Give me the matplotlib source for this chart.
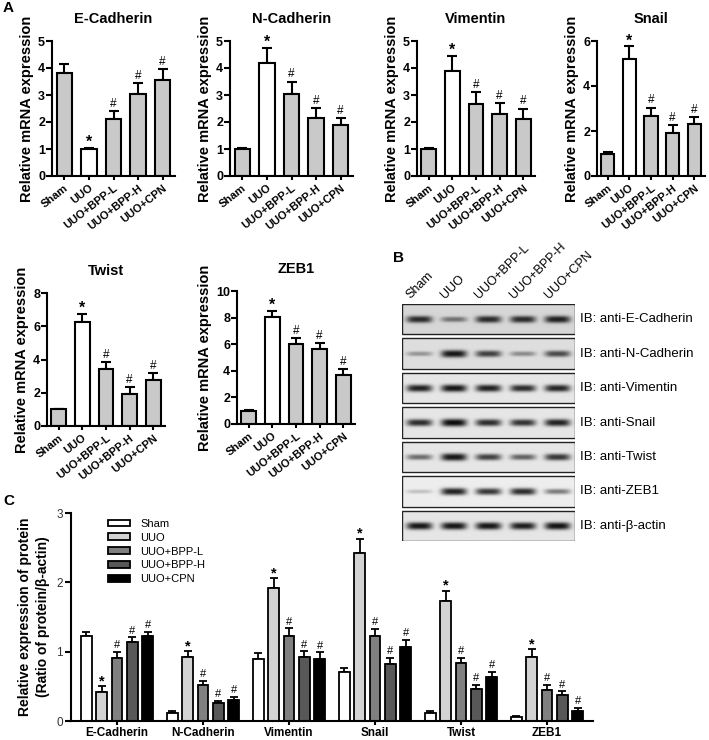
import numpy as np
import matplotlib
matplotlib.use("Agg")
import matplotlib.pyplot as plt
from matplotlib.patches import Rectangle, Patch

plt.rcParams['font.family'] = ['Liberation Sans', 'DejaVu Sans']

# ---------------- data ----------------
groups = ["Sham", "UUO", "UUO+BPP-L", "UUO+BPP-H", "UUO+CPN"]
sig_marks = ["", "*", "#", "#", "#"]

ecad_mrna = [3.80, 1.00, 2.10, 3.03, 3.57]
ecad_mrna_err = [0.33, 0.05, 0.30, 0.40, 0.38]
ncad_mrna = [1.00, 4.20, 3.05, 2.15, 1.88]
ncad_mrna_err = [0.05, 0.55, 0.45, 0.37, 0.28]
vim_mrna = [1.00, 3.88, 2.65, 2.28, 2.10]
vim_mrna_err = [0.04, 0.57, 0.45, 0.42, 0.40]
snail_mrna = [1.00, 5.22, 2.67, 1.90, 2.32]
snail_mrna_err = [0.05, 0.55, 0.37, 0.35, 0.30]
twist_mrna = [1.00, 6.25, 3.45, 1.95, 2.75]
twist_mrna_err = [0.05, 0.50, 0.40, 0.40, 0.45]
zeb1_mrna = [1.00, 8.05, 6.05, 5.65, 3.70]
zeb1_mrna_err = [0.05, 0.45, 0.40, 0.45, 0.45]

protein_names = ["E-Cadherin", "N-Cadherin", "Vimentin", "Snail", "Twist", "ZEB1"]
# rows: protein, columns: groups
protein_ratio = [
    [1.23, 0.42, 0.91, 1.14, 1.22],
    [0.11, 0.93, 0.52, 0.26, 0.31],
    [0.90, 1.92, 1.23, 0.93, 0.90],
    [0.70, 2.43, 1.22, 0.82, 1.07],
    [0.12, 1.73, 0.83, 0.46, 0.64],
    [0.06, 0.93, 0.45, 0.38, 0.15],
]
protein_err = [
    [0.06, 0.08, 0.09, 0.07, 0.07],
    [0.03, 0.08, 0.06, 0.03, 0.04],
    [0.08, 0.14, 0.11, 0.08, 0.09],
    [0.07, 0.20, 0.11, 0.09, 0.10],
    [0.03, 0.15, 0.08, 0.06, 0.07],
    [0.01, 0.11, 0.07, 0.05, 0.04],
]

blot_labels = ["IB: anti-E-Cadherin", "IB: anti-N-Cadherin", "IB: anti-Vimentin",
               "IB: anti-Snail", "IB: anti-Twist", "IB: anti-ZEB1", "IB: anti-\u03b2-actin"]
# band darkness (0-1) per blot row and lane
band_intensity = [
    [0.85, 0.50, 0.85, 0.85, 0.90],
    [0.35, 0.95, 0.75, 0.40, 0.70],
    [0.90, 0.95, 0.90, 0.85, 0.88],
    [0.85, 1.00, 0.85, 0.82, 0.90],
    [0.55, 0.95, 0.75, 0.60, 0.80],
    [0.20, 0.90, 0.80, 0.85, 0.50],
    [0.95, 0.95, 0.95, 0.92, 0.97],
]
blot_background = [0.84, 0.87, 0.90, 0.90, 0.90, 0.93, 0.90]

# ---------------- figure ----------------
W, H = 709, 740
fig = plt.figure(figsize=(W / 100, H / 100), dpi=100)


def axpx(l, t, r, b):
    ax = fig.add_axes([l / W, 1 - b / H, (r - l) / W, (b - t) / H])
    ax.patch.set_visible(False)
    return ax


def style_axes(ax, lw=1.5):
    for s in ["top", "right"]:
        ax.spines[s].set_visible(False)
    for s in ["left", "bottom"]:
        ax.spines[s].set_linewidth(lw)


def mrna_panel(rect, title, means, errs, ymax, ystep):
    ax = axpx(*rect)
    style_axes(ax)
    x = np.arange(len(groups))
    colors = ["white" if g == "UUO" else "#c9c9c9" for g in groups]
    ax.errorbar(x, means, yerr=[np.zeros(len(x)), errs], fmt="none", ecolor="black",
                elinewidth=1.5, capsize=3.6, capthick=1.5, zorder=1)
    ax.bar(x, means, width=0.62, color=colors, edgecolor="black", linewidth=1.5, zorder=2)
    for i, m in enumerate(sig_marks):
        if not m:
            continue
        top = means[i] + errs[i]
        if m == "*":
            ax.annotate(m, (i, top), xytext=(0, 0.5), textcoords="offset points",
                        ha="center", va="baseline", fontsize=11.5, fontweight="bold")
        else:
            ax.annotate(m, (i, top), xytext=(0, 3), textcoords="offset points",
                        ha="center", va="baseline", fontsize=8.5)
    ax.set_xlim(-0.5, 4.5)
    ax.set_ylim(0, ymax)
    yt = np.arange(0, ymax + 0.001, ystep)
    ax.set_yticks(yt, [f"{v:g}" for v in yt], fontsize=9, fontweight="bold")
    ax.set_xticks(x, groups, rotation=38, ha="right", rotation_mode="anchor",
                  fontsize=8, fontweight="bold")
    ax.tick_params(axis="y", width=1.5, length=4, pad=1)
    ax.tick_params(axis="x", width=1.5, length=3, pad=2)
    ax.set_ylabel("Relative mRNA expression", fontsize=10.5, fontweight="bold", labelpad=3)
    ax.set_title(title, fontsize=10.5, fontweight="bold", pad=13)
    return ax


mrna_panel((52, 41, 175, 176), "E-Cadherin", ecad_mrna, ecad_mrna_err, 5, 1)
mrna_panel((230, 41, 353, 176), "N-Cadherin", ncad_mrna, ncad_mrna_err, 5, 1)
mrna_panel((417, 41, 535, 176), "Vimentin", vim_mrna, vim_mrna_err, 5, 1)
mrna_panel((597, 41, 705, 176), "Snail", snail_mrna, snail_mrna_err, 6, 2)
mrna_panel((47, 293, 165, 426), "Twist", twist_mrna, twist_mrna_err, 8, 2)
mrna_panel((237, 291, 355, 424), "ZEB1", zeb1_mrna, zeb1_mrna_err, 10, 2)

# ---------------- protein quantification (C) ----------------
axc = axpx(71, 513, 593, 721)
style_axes(axc)
bar_colors = ["white", "#d3d3d3", "#808080", "#585858", "black"]
spacing = 0.178
bw = 0.125
gx = np.arange(len(protein_names))
for k, g in enumerate(groups):
    xpos = gx + (k - 2) * spacing
    vals = [row[k] for row in protein_ratio]
    errs = [row[k] for row in protein_err]
    axc.errorbar(xpos, vals, yerr=[np.zeros(len(vals)), errs], fmt="none", ecolor="black",
                 elinewidth=1.3, capsize=2.6, capthick=1.3, zorder=1)
    axc.bar(xpos, vals, width=bw, color=bar_colors[k], edgecolor="black",
            linewidth=1.3, zorder=2, label=g)
    if sig_marks[k]:
        for xi, v, e in zip(xpos, vals, errs):
            if sig_marks[k] == "*":
                axc.annotate("*", (xi, v + e), xytext=(0, 0.5), textcoords="offset points",
                             ha="center", va="baseline", fontsize=10.5, fontweight="bold")
            else:
                axc.annotate("#", (xi, v + e), xytext=(0, 2.5), textcoords="offset points",
                             ha="center", va="baseline", fontsize=8)
axc.set_xlim(-0.535, len(protein_names) - 1 + 0.535)
axc.set_ylim(0, 3)
axc.set_yticks([0, 1, 2, 3], ["0", "1", "2", "3"], fontsize=8.5, color="#333333")
axc.set_xticks(gx, protein_names, fontsize=8.5, fontweight="bold")
axc.tick_params(axis="y", width=1.5, length=4, pad=2)
axc.tick_params(axis="x", width=1.5, length=3, pad=1)
axc.set_ylabel("Relative expression of protein\n(Ratio of protein/\u03b2-actin)",
               fontsize=10, fontweight="bold", labelpad=4, linespacing=1.4)
handles = [Patch(facecolor=c, edgecolor="black", linewidth=1.3) for c in bar_colors]
axc.legend(handles, groups, loc="upper left", bbox_to_anchor=(100 / W, 1 - 511 / H),
           bbox_transform=fig.transFigure, frameon=False, fontsize=8,
           handlelength=2.0, handleheight=0.55, labelspacing=0.35, handletextpad=0.9,
           borderpad=0.2)

# ---------------- Western blot (B) ----------------
axb = axpx(402, 304, 575, 541)
nrows = len(blot_labels)
box_h = 0.87
ytot = (nrows - 1) + box_h
nx, ny = 400, 560
xs = np.linspace(0, 5, nx)
ys = np.linspace(0, ytot, ny)
X, Y = np.meshgrid(xs, ys)
img = np.ones_like(X)
for r in range(nrows):
    inside = (Y >= r) & (Y <= r + box_h)
    bg = blot_background[r]
    val = np.zeros_like(X)
    for j in range(5):
        d = band_intensity[r][j]
        xc = j + 0.5
        yc = r + 0.44
        sig = 0.045 + 0.065 * d
        prof = d * np.exp(-((X - xc) / 0.37) ** 4) * np.exp(-np.abs((Y - yc) / sig) ** 2.5)
        val = np.maximum(val, prof)
    img = np.where(inside, bg * (1 - 0.95 * np.clip(val, 0, 1)), img)
axb.imshow(img, cmap="gray", vmin=0, vmax=1, extent=(0, 5, ytot, 0),
           aspect="auto", interpolation="bilinear")
for r in range(nrows):
    axb.add_patch(Rectangle((0, r), 5, box_h, fill=False, edgecolor="#222222", lw=1.0))
    axb.text(5.15, r + box_h / 2, blot_labels[r], ha="left", va="center",
             fontsize=9.5, clip_on=False)
for j, g in enumerate(groups):
    axb.text(j + 0.3, -0.08, g, rotation=45, ha="left", va="bottom",
             rotation_mode="anchor", fontsize=9, clip_on=False)
axb.set_xlim(0, 5)
axb.set_ylim(ytot, 0)
axb.axis("off")

# ---------------- panel letters ----------------
fig.text(3 / W, 1 - 1 / H, "A", fontsize=11, fontweight="bold", va="top", ha="left")
fig.text(393 / W, 1 - 251 / H, "B", fontsize=11, fontweight="bold", va="top", ha="left")
fig.text(3 / W, 1 - 494 / H, "C", fontsize=11, fontweight="bold", va="top", ha="left")

fig.savefig("out.png", dpi=100)
